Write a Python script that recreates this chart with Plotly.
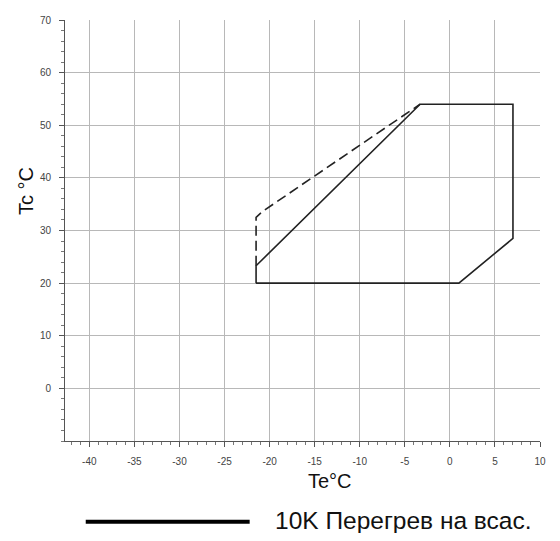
import plotly.graph_objects as go

# Envelope data (Te °C, Tc °C)
solid_te = [-21.5, 1.0, 7.0, 7.0, -3.3, -21.5, -21.5]
solid_tc = [20.0, 20.0, 28.5, 54.0, 54.0, 23.3, 20.0]
dashed_te = [-21.5, -21.5, -20.8, -3.3]
dashed_tc = [23.3, 32.5, 33.6, 54.0]

x_ticks = [-40, -35, -30, -25, -20, -15, -10, -5, 0, 5, 10]
y_ticks = [0, 10, 20, 30, 40, 50, 60, 70]

legend_label = "10K Перегрев на всас."
x_title = "Te°C"
y_title = "Tc °C"

OFF = 8  # page body margin
W, H = 560 - 2 * OFF, 541 - 2 * OFF
L, T = 65 - OFF, 14 - OFF
pw, ph = 481, 427
R, B = W - L - pw, H - T - ph


def px(x):
    return (x - OFF - L) / pw


def py(y):
    return (T + ph - (y - OFF)) / ph


fig = go.Figure()
fig.add_trace(go.Scatter(x=dashed_te, y=dashed_tc, mode="lines",
                         line=dict(color="#222", width=1.6, dash="10px,5px"),
                         showlegend=False, hoverinfo="skip"))
fig.add_trace(go.Scatter(x=solid_te, y=solid_tc, mode="lines",
                         line=dict(color="#222", width=1.6),
                         showlegend=False, hoverinfo="skip"))

axis_common = dict(
    showline=True, linecolor="#555", linewidth=1,
    showgrid=True, gridcolor="#b8b8b8", gridwidth=1,
    zeroline=False, ticks="outside", ticklen=5, tickcolor="#555",
    tickfont=dict(family="Liberation Sans, Arial", size=10, color="#444"),
)

fig.update_xaxes(range=[-42.7, 10], tickvals=x_ticks, ticktext=[str(v) for v in x_ticks],
                 minor=dict(dtick=1, tick0=0, ticks="outside", ticklen=3, tickcolor="#777", showgrid=False),
                 ticklabelstandoff=6, **axis_common)
fig.update_yaxes(range=[-10, 70], tickvals=y_ticks, ticktext=[str(v) for v in y_ticks],
                 minor=dict(dtick=2, tick0=0, ticks="outside", ticklen=3, tickcolor="#777", showgrid=False),
                 ticklabelstandoff=6, **axis_common)

fig.add_annotation(text=x_title, xref="paper", yref="paper", x=px(333), y=py(482),
                   showarrow=False, xanchor="center", yanchor="middle",
                   font=dict(family="Liberation Sans, Arial", size=20, color="#111"))
fig.add_annotation(text=y_title, xref="paper", yref="paper", x=px(25), y=py(187),
                   showarrow=False, xanchor="center", yanchor="middle", textangle=-90,
                   font=dict(family="Liberation Sans, Arial", size=20, color="#111"))

# legend sample
fig.add_shape(type="line", xref="paper", yref="paper", x0=px(86), x1=px(252), y0=py(523), y1=py(523),
              line=dict(color="#000", width=4))
fig.add_annotation(text=legend_label, xref="paper", yref="paper", x=px(276), y=py(522),
                   showarrow=False, xanchor="left", yanchor="middle",
                   font=dict(family="Liberation Sans, Arial", size=24.5, color="#111"))

fig.update_layout(width=W, height=H, margin=dict(l=L, r=R, t=T, b=B, pad=0),
                  plot_bgcolor="white", paper_bgcolor="white", showlegend=False)

fig.write_html("out.html")
